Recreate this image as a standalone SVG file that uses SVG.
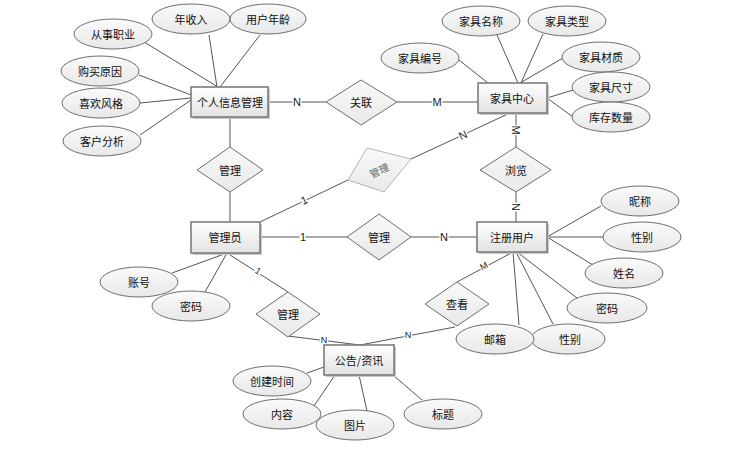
<svg xmlns="http://www.w3.org/2000/svg" width="734" height="450" viewBox="0 0 734 450">
<defs>
<linearGradient id="g" x1="0" y1="0" x2="0" y2="1"><stop offset="0" stop-color="#ffffff"/><stop offset="1" stop-color="#e2e2e2"/></linearGradient>
<linearGradient id="ge" x1="0" y1="0" x2="0" y2="1"><stop offset="0" stop-color="#fafafa"/><stop offset="1" stop-color="#e8e8e8"/></linearGradient>
</defs>
<style>
.e rect{fill:url(#g);stroke:#7c7c7c;stroke-width:1.6}
.e rect.s{fill:#c8c8c8;stroke:none}
.a ellipse{fill:url(#ge);stroke:#6e6e6e;stroke-width:1}
.r polygon{fill:url(#ge);stroke:#6e6e6e;stroke-width:1}
text{font-family:"Noto Sans CJK SC","Liberation Sans",sans-serif;font-size:11px;fill:#111;text-anchor:middle;dominant-baseline:central}
.c line{stroke:#555;stroke-width:1;fill:none}
.l{font-family:"Liberation Sans",sans-serif;font-size:11px;fill:#222;stroke:#fff;stroke-width:3;paint-order:stroke}
</style>
<g class="c" id="connectors">
<line x1="144" y1="42" x2="218" y2="87"/>
<line x1="209" y1="35" x2="217" y2="87"/>
<line x1="260" y1="35" x2="220" y2="87"/>
<line x1="139" y1="75" x2="191" y2="95"/>
<line x1="140" y1="103" x2="191" y2="98"/>
<line x1="140" y1="135" x2="191" y2="100"/>
<line x1="230" y1="117" x2="230" y2="147"/>
<line x1="230" y1="192" x2="230" y2="222"/>
<line x1="268" y1="102" x2="326" y2="102"/>
<line x1="397" y1="102" x2="478" y2="102"/>
<line x1="459" y1="60" x2="488" y2="83"/>
<line x1="497" y1="35" x2="518" y2="83"/>
<line x1="543" y1="34" x2="521" y2="83"/>
<line x1="563" y1="58" x2="520" y2="83"/>
<line x1="573" y1="90" x2="547" y2="98"/>
<line x1="573" y1="117" x2="547" y2="98"/>
<line x1="516" y1="113" x2="516" y2="147"/>
<line x1="516" y1="192" x2="516" y2="222"/>
<line x1="510" y1="113" x2="411" y2="159"/>
<line x1="348" y1="180" x2="260" y2="222"/>
<line x1="260" y1="237" x2="347" y2="237"/>
<line x1="411" y1="237" x2="477" y2="237"/>
<line x1="172" y1="273" x2="227" y2="253"/>
<line x1="205" y1="292" x2="227" y2="253"/>
<line x1="227" y1="253" x2="288" y2="292"/>
<line x1="288" y1="336" x2="360" y2="345"/>
<line x1="455" y1="327" x2="360" y2="345"/>
<line x1="513" y1="252" x2="457" y2="282"/>
<line x1="601" y1="206" x2="547" y2="237"/>
<line x1="603" y1="237" x2="547" y2="237"/>
<line x1="593" y1="265" x2="547" y2="237"/>
<line x1="577" y1="298" x2="517" y2="252"/>
<line x1="519" y1="325" x2="513" y2="252"/>
<line x1="553" y1="324" x2="516" y2="252"/>
<line x1="307" y1="373" x2="324" y2="367"/>
<line x1="314" y1="406" x2="335" y2="375"/>
<line x1="367" y1="411" x2="359" y2="375"/>
<line x1="422" y1="400" x2="393" y2="375"/>
<text class="l" x="297" y="102">N</text>
<text class="l" x="437" y="102">M</text>
<text class="l" x="516" y="130" transform="rotate(90 516 130)">M</text>
<text class="l" x="516" y="207" transform="rotate(90 516 207)">N</text>
<text class="l" x="463" y="135" transform="rotate(-25 463 135)">N</text>
<text class="l" x="304" y="200" transform="rotate(-25 304 200)">1</text>
<text class="l" x="303" y="237">1</text>
<text class="l" x="444" y="237">N</text>
<text class="l" x="258" y="271" transform="rotate(33 258 271)" style="font-size:9px">1</text>
<text class="l" x="324" y="340" style="font-size:9px">N</text>
<text class="l" x="408" y="335" style="font-size:9px">N</text>
<text class="l" x="484" y="266" transform="rotate(-28 484 266)" style="font-size:9px">M</text>
</g>
<g id="attr-cszy" class="a"><ellipse cx="113" cy="34" rx="39" ry="15"/><text x="113" y="34">从事职业</text></g>
<g id="attr-nsr" class="a"><ellipse cx="191" cy="19" rx="39" ry="15"/><text x="191" y="19">年收入</text></g>
<g id="attr-yhnl" class="a"><ellipse cx="268" cy="19" rx="38" ry="15"/><text x="268" y="19">用户年龄</text></g>
<g id="attr-gmyy" class="a"><ellipse cx="100" cy="71" rx="39" ry="15"/><text x="100" y="71">购买原因</text></g>
<g id="attr-xhfg" class="a"><ellipse cx="101" cy="103" rx="39" ry="15"/><text x="101" y="103">喜欢风格</text></g>
<g id="attr-khfx" class="a"><ellipse cx="102" cy="141" rx="39" ry="15"/><text x="102" y="141">客户分析</text></g>
<g id="attr-jjbh" class="a"><ellipse cx="420" cy="58" rx="39" ry="15"/><text x="420" y="58">家具编号</text></g>
<g id="attr-jjmc" class="a"><ellipse cx="481" cy="21" rx="39" ry="15"/><text x="481" y="21">家具名称</text></g>
<g id="attr-jjlx" class="a"><ellipse cx="567" cy="21" rx="39" ry="15"/><text x="567" y="21">家具类型</text></g>
<g id="attr-jjcz" class="a"><ellipse cx="601" cy="57" rx="39" ry="15"/><text x="601" y="57">家具材质</text></g>
<g id="attr-jjcc" class="a"><ellipse cx="611" cy="87" rx="39" ry="15"/><text x="611" y="87">家具尺寸</text></g>
<g id="attr-kcsl" class="a"><ellipse cx="611" cy="117" rx="39" ry="15"/><text x="611" y="117">库存数量</text></g>
<g id="attr-nc" class="a"><ellipse cx="640" cy="201" rx="39" ry="15"/><text x="640" y="201">昵称</text></g>
<g id="attr-xb1" class="a"><ellipse cx="642" cy="237" rx="39" ry="15"/><text x="642" y="237">性别</text></g>
<g id="attr-xm" class="a"><ellipse cx="624" cy="273" rx="39" ry="15"/><text x="624" y="273">姓名</text></g>
<g id="attr-mm2" class="a"><ellipse cx="607" cy="308" rx="40" ry="15"/><text x="607" y="308">密码</text></g>
<g id="attr-xb2" class="a"><ellipse cx="568" cy="339" rx="37" ry="15"/><text x="570" y="339">性别</text></g>
<g id="attr-yx" class="a"><ellipse cx="495" cy="339" rx="39" ry="15"/><text x="495" y="339">邮箱</text></g>
<g id="attr-zh" class="a"><ellipse cx="139" cy="282" rx="39" ry="15"/><text x="139" y="282">账号</text></g>
<g id="attr-mm1" class="a"><ellipse cx="191" cy="306" rx="39" ry="15"/><text x="191" y="306">密码</text></g>
<g id="attr-cjsj" class="a"><ellipse cx="272" cy="381" rx="39" ry="15"/><text x="272" y="381">创建时间</text></g>
<g id="attr-nr" class="a"><ellipse cx="282" cy="414" rx="39" ry="15"/><text x="282" y="414">内容</text></g>
<g id="attr-tp" class="a"><ellipse cx="355" cy="425" rx="39" ry="15"/><text x="355" y="425">图片</text></g>
<g id="attr-bt" class="a"><ellipse cx="443" cy="414" rx="39" ry="15"/><text x="443" y="414">标题</text></g>
<g id="rel-gl" class="r"><polygon points="361,80 397,102 361,125 326,102"/><text x="361" y="102">关联</text></g>
<g id="rel-gl1" class="r"><polygon points="230,147 263,170 230,192 197,170"/><text x="230" y="170">管理</text></g>
<g id="rel-gl2" class="r"><polygon points="367,148 411,159 384,192 348,180" style="stroke:#b5b5b5"/><text x="379" y="170" transform="rotate(-25 379 170)" style="fill:#666;font-size:10px">管理</text></g>
<g id="rel-gl3" class="r"><polygon points="379,214 411,237 379,260 347,237"/><text x="379" y="237">管理</text></g>
<g id="rel-ll" class="r"><polygon points="516,147 551,170 516,192 480,170"/><text x="516" y="170">浏览</text></g>
<g id="rel-gl4" class="r"><polygon points="288,292 320,314 288,337 256,314"/><text x="288" y="314">管理</text></g>
<g id="rel-ck" class="r"><polygon points="457,282 489,304 457,326 425,304"/><text x="457" y="304">查看</text></g>
<g id="ent-grxx" class="e"><rect class="s" x="193" y="89" width="77" height="30"/><rect x="191" y="87" width="77" height="30"/><text x="230" y="102">个人信息管理</text></g>
<g id="ent-jjzx" class="e"><rect class="s" x="480" y="85" width="69" height="30"/><rect x="478" y="83" width="69" height="30"/><text x="512" y="98">家具中心</text></g>
<g id="ent-gly" class="e"><rect class="s" x="193" y="224" width="69" height="31"/><rect x="191" y="222" width="69" height="31"/><text x="225" y="237">管理员</text></g>
<g id="ent-zcyh" class="e"><rect class="s" x="479" y="224" width="70" height="30"/><rect x="477" y="222" width="70" height="30"/><text x="512" y="237">注册用户</text></g>
<g id="ent-gg" class="e"><rect class="s" x="326" y="347" width="70" height="30"/><rect x="324" y="345" width="70" height="30"/><text x="359" y="360">公告/资讯</text></g>
</svg>
